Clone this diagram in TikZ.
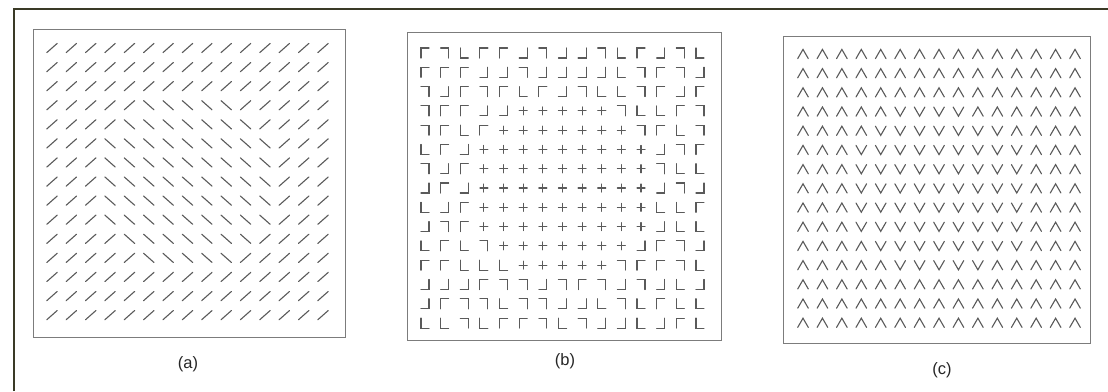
\documentclass[tikz,border=0pt]{standalone}
\usepackage{fontspec}
\setmainfont{Liberation Sans}
\usepackage{tikz}
\definecolor{ink}{HTML}{5A5A5A}
\definecolor{muted}{HTML}{7C7C7C}
\definecolor{edge}{HTML}{3A3A26}
\tikzset{
  bar/.style={ink,line width=1.1pt,line cap=round,line join=miter},
  panel/.style={muted,line width=1pt},
  lbl/.style={font=\fontsize{16.5}{19}\selectfont,text=black!85},
  % oriented bars of (a)
  fwd/.pic={\draw[bar] (-5.2,4.6)--(5.2,-4.6);},
  bwd/.pic={\draw[bar] (-5.2,-4.6)--(5.2,4.6);},
  % corners and crosses of (b)
  crna/.pic={\draw[bar] (4,-5)--(-4,-5)--(-4,5);},
  crnb/.pic={\draw[bar] (-4,-5)--(4,-5)--(4,5);},
  crnc/.pic={\draw[bar] (-4,-5)--(-4,5)--(4,5);},
  crnd/.pic={\draw[bar] (4,-5)--(4,5)--(-4,5);},
  crnp/.pic={\draw[bar] (-4,0)--(4,0) (0,-4)--(0,4);},
  % chevrons of (c)
  chvup/.pic={\draw[bar] (-5.3,4.6)--(0,-4.6)--(5.3,4.6);},
  chvdn/.pic={\draw[bar] (-5.3,-4.6)--(0,4.6)--(5.3,-4.6);}
}

\begin{document}
\begin{tikzpicture}[x=1pt,y=-1pt]
  \useasboundingbox (0,0) rectangle (1108,391);
  \fill[white] (0,0) rectangle (1108,391);
  \draw[edge,line width=1.6pt] (14,391) -- (14,9) -- (1108,9);

  % (a) oriented bars
  \draw[panel] (33,29) rectangle (345,337);
  \foreach \r/\lo/\hi in {1/0/0,2/0/0,3/0/0,4/6/10,5/5/11,6/4/12,7/4/12,8/4/12,
      9/4/12,10/4/12,11/5/11,12/6/10,13/0/0,14/0/0,15/0/0}
    \foreach \c in {1,...,15} {
      \pgfmathtruncatemacro\inside{and(\c>=\lo,\c<=\hi)}
      \ifnum\inside=1
        \pic at ({52+19.36*(\c-1)},{48+19.08*(\r-1)}) {bwd};
      \else
        \pic at ({52+19.36*(\c-1)},{48+19.08*(\r-1)}) {fwd};
      \fi
    }
  \node[lbl] (la) at (188,364) {(a)};

  % (b) corners and crosses
  \draw[panel] (407,32) rectangle (721,340);
  \foreach \row [count=\r] in {
      {a,b,c,a,a,d,b,d,d,b,c,a,d,b,c},
      {a,a,a,d,d,b,d,d,d,d,c,b,a,b,d},
      {b,d,a,b,a,c,a,d,b,c,c,b,a,d,a},
      {b,a,a,d,d,p,p,p,p,p,b,c,c,a,b},
      {b,a,c,a,p,p,p,p,p,p,p,b,a,c,b},
      {c,a,d,p,p,p,p,p,p,p,p,p,d,b,a},
      {b,d,a,p,p,p,p,p,p,p,p,p,b,c,c},
      {d,a,d,p,p,p,p,p,p,p,p,p,d,b,d},
      {c,d,a,p,p,p,p,p,p,p,p,p,c,c,a},
      {d,b,a,p,p,p,p,p,p,p,p,p,d,c,c},
      {c,a,c,b,p,p,p,p,p,p,p,d,a,b,d},
      {a,a,c,c,c,p,p,p,p,p,b,a,a,b,c},
      {d,d,d,a,b,b,d,b,a,b,d,b,d,c,d},
      {d,a,b,b,c,b,b,d,d,c,b,c,a,c,c},
      {c,c,b,c,a,a,b,c,b,d,d,c,d,a,c}}
    \foreach \k [count=\c] in \row
      \pic at ({425+19.64*(\c-1)},{53+19.29*(\r-1)}) {crn\k};
  \node[lbl] (lb) at (565,361) {(b)};

  % (c) chevrons
  \draw[panel] (783,36) rectangle (1090,343);
  \foreach \r/\lo/\hi in {1/0/0,2/0/0,3/0/0,4/6/9,5/5/11,6/4/12,7/4/12,8/4/12,
      9/4/12,10/4/12,11/5/12,12/6/10,13/0/0,14/0/0,15/0/0}
    \foreach \c in {1,...,15} {
      \pgfmathtruncatemacro\inside{and(\c>=\lo,\c<=\hi)}
      \ifnum\inside=1
        \pic at ({803+19.43*(\c-1)},{54+19.2*(\r-1)}) {chvdn};
      \else
        \pic at ({803+19.43*(\c-1)},{54+19.2*(\r-1)}) {chvup};
      \fi
    }
  \node[lbl] (lc) at (942,370) {(c)};
\end{tikzpicture}
\end{document}
